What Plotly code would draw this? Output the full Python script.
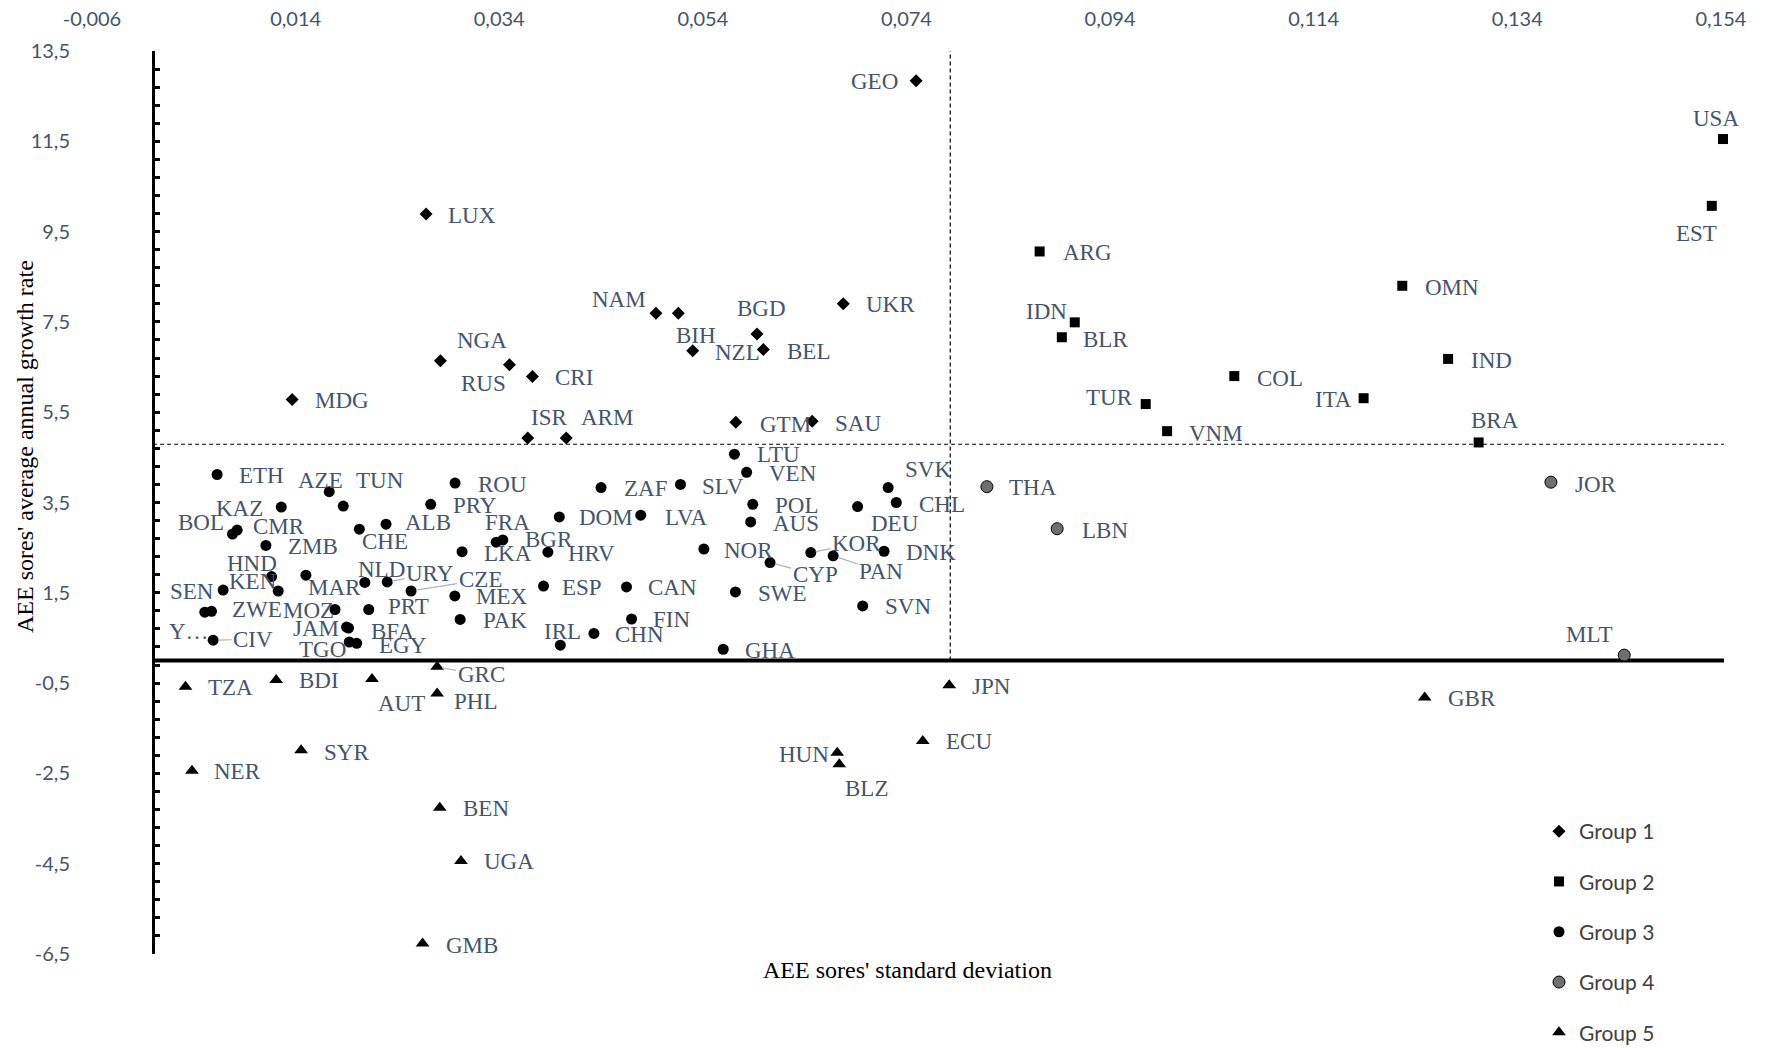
import plotly.graph_objects as go

# ---------------- data ----------------
g1_names = ["GEO", "LUX", "NAM", "BIH", "BGD", "NZL", "BEL", "UKR", "NGA", "RUS", "CRI", "MDG", "ISR", "ARM", "GTM", "SAU"]
g1_x = [0.07495, 0.02681, 0.04939, 0.05159, 0.05932, 0.0530, 0.05994, 0.06779, 0.02822, 0.0350, 0.03726, 0.01366, 0.0368, 0.04058, 0.05724, 0.06474]
g1_y = [12.84, 9.89, 7.69, 7.69, 7.23, 6.86, 6.89, 7.90, 6.64, 6.55, 6.29, 5.78, 4.93, 4.93, 5.28, 5.30]

g2_names = ["USA", "EST", "ARG", "OMN", "IDN", "BLR", "IND", "COL", "ITA", "TUR", "VNM", "BRA"]
g2_x = [0.1542, 0.1531, 0.08708, 0.1227, 0.09053, 0.08926, 0.1272, 0.1062, 0.1189, 0.0975, 0.0996, 0.1302]
g2_y = [11.55, 10.07, 9.06, 8.30, 7.49, 7.16, 6.68, 6.30, 5.81, 5.68, 5.08, 4.83]

g3_names = ["ETH", "AZE", "TUN", "KAZ", "BOL", "CMR", "ZMB", "CHE", "ALB", "ROU", "PRY", "FRA", "BGR", "LKA",
            "HRV", "DOM", "ZAF", "SLV", "LVA", "LTU", "VEN", "POL", "AUS", "NOR", "CYP", "KOR", "PAN", "DEU",
            "SVK", "CHL", "DNK", "SVN", "HND", "KEN", "MAR", "SEN", "Y…", "ZWE", "MOZ", "NLD", "URY", "CZE",
            "PRT", "MEX", "PAK", "JAM", "BFA", "TGO", "EGY", "CIV", "IRL", "ESP", "CAN", "SWE", "FIN", "CHN", "GHA"]
g3_x = [0.00629, 0.0173, 0.01868, 0.01259, 0.0078, 0.00826, 0.01108, 0.02026, 0.02288, 0.02966, 0.02727, 0.0337, 0.03435, 0.03035,
        0.03878, 0.0399, 0.0440, 0.0518, 0.0479, 0.0571, 0.0583, 0.0589, 0.0587, 0.0541, 0.0606, 0.0646, 0.0668, 0.0692,
        0.0722, 0.0730, 0.0718, 0.0697, 0.01164, 0.01229, 0.01501, 0.00688, 0.00508, 0.00574, 0.01787, 0.0208, 0.0230, 0.02534,
        0.02118, 0.02964, 0.03016, 0.0190, 0.0192, 0.01927, 0.0200, 0.0059, 0.0400, 0.03835, 0.0465, 0.0572, 0.0470, 0.0433, 0.0560]
g3_y = [4.12, 3.74, 3.42, 3.40, 2.80, 2.89, 2.55, 2.91, 3.02, 3.93, 3.46, 2.62, 2.67, 2.41,
        2.40, 3.18, 3.83, 3.90, 3.22, 4.57, 4.17, 3.46, 3.07, 2.47, 2.17, 2.39, 2.32, 3.41,
        3.83, 3.50, 2.42, 1.21, 1.86, 1.54, 1.89, 1.56, 1.07, 1.09, 1.13, 1.73, 1.74, 1.54,
        1.13, 1.43, 0.91, 0.74, 0.72, 0.41, 0.38, 0.45, 0.34, 1.65, 1.63, 1.52, 0.92, 0.60, 0.25]

g4_names = ["THA", "LBN", "JOR", "MLT"]
g4_x = [0.0819, 0.0888, 0.1373, 0.1445]
g4_y = [3.85, 2.92, 3.95, 0.12]

g5_names = ["TZA", "BDI", "AUT", "GRC", "PHL", "SYR", "NER", "BEN", "UGA", "GMB", "JPN", "ECU", "HUN", "BLZ", "GBR"]
g5_x = [0.00318, 0.01209, 0.02150, 0.02790, 0.02790, 0.01454, 0.00382, 0.02816, 0.03024, 0.02647, 0.0782, 0.0756, 0.0672, 0.0674, 0.1249]
g5_y = [-0.58, -0.43, -0.41, -0.14, -0.73, -1.99, -2.44, -3.26, -4.44, -6.27, -0.55, -1.78, -2.04, -2.30, -0.82]

group_names = ["Group 1", "Group 2", "Group 3", "Group 4", "Group 5"]

x_tick_vals = [-0.006, 0.014, 0.034, 0.054, 0.074, 0.094, 0.114, 0.134, 0.154]
x_tick_text = ["-0,006", "0,014", "0,034", "0,054", "0,074", "0,094", "0,114", "0,134", "0,154"]
y_tick_vals = [13.5, 11.5, 9.5, 7.5, 5.5, 3.5, 1.5, -0.5, -2.5, -4.5, -6.5]
y_tick_text = ["13,5", "11,5", "9,5", "7,5", "5,5", "3,5", "1,5", "-0,5", "-2,5", "-4,5", "-6,5"]

mean_x = 0.0783
mean_y = 4.79

x_title = "AEE sores' standard deviation"
y_title = "AEE sores' average annual growth rate"

# ---------------- label placement (pixel offsets of label centre from point) ----------------
label_offsets = {
    "GEO": (-42, 1), "LUX": (46, 1.5), "NAM": (-37, -14), "BIH": (18, 22), "BGD": (4, -26), "NZL": (45, 2),
    "BEL": (45, 2), "UKR": (47, 1), "NGA": (42, -20), "RUS": (-26, 19), "CRI": (42, 1), "MDG": (50, 1),
    "ISR": (21, -20), "ARM": (41, -20), "GTM": (50, 2), "SAU": (46, 2),
    "USA": (-7, -21), "EST": (-15, 28), "ARG": (48, 1), "OMN": (50, 2), "IDN": (-28, -11), "BLR": (44, 2),
    "IND": (43, 2), "COL": (46, 2), "ITA": (-30, 1), "TUR": (-36, -7), "VNM": (49, 2), "BRA": (16, -22),
    "ETH": (44, 1), "AZE": (-9, -11), "TUN": (37, -26), "KAZ": (-42, 1), "BOL": (-32, -12), "CMR": (42, -4),
    "ZMB": (47, 1), "CHE": (26, 12), "ALB": (42, -2), "ROU": (47, 1), "PRY": (44, 1), "FRA": (11, -20),
    "BGR": (46, 0), "LKA": (46, 2), "HRV": (44, 1), "DOM": (47, 1), "ZAF": (44, 1), "SLV": (43, 2),
    "LVA": (46, 2), "LTU": (44, 0), "VEN": (46, 1), "POL": (44, 1), "AUS": (45, 2), "NOR": (45, 1),
    "CYP": (45, 12), "KOR": (46, -9), "PAN": (48, 16), "DEU": (37, 17), "SVK": (40, -18), "CHL": (46, 2),
    "DNK": (47, 1), "SVN": (45, 1), "HND": (-20, -13), "KEN": (-25, -9), "MAR": (29, 12), "SEN": (-31, 1),
    "Y…": (-16, 19), "ZWE": (45, -2), "MOZ": (-27, 1), "NLD": (17, -13), "URY": (43, -8), "CZE": (69, -11),
    "PRT": (40, -3), "MEX": (47, 1), "PAK": (45, 1), "JAM": (-31, 1), "BFA": (44, 3), "TGO": (-27, 7),
    "EGY": (46, 2), "CIV": (40, -1), "IRL": (2, -14), "ESP": (38, 1), "CAN": (46, 1), "SWE": (47, 2),
    "FIN": (40, 1), "CHN": (46, 1), "GHA": (47, 1),
    "THA": (46, 1), "LBN": (48, 2), "JOR": (45, 2), "MLT": (-35, -21),
    "TZA": (45, 1), "BDI": (43, 1), "AUT": (30, 24), "GRC": (44, 8), "PHL": (38, 8), "SYR": (45, 2),
    "NER": (46, 1), "BEN": (46, 1), "UGA": (48, 1), "GMB": (49, 2), "JPN": (42, 1), "ECU": (46, 1),
    "HUN": (-33, 2), "BLZ": (27, 24), "GBR": (47, 1),
}
leader_labels = {"MOZ", "CIV", "URY", "CZE", "GRC", "CYP", "KOR", "PAN"}

LABEL_FONT = dict(family="Liberation Serif, Times New Roman, serif", size=23, color="#44546A")
TICK_FONT = dict(family="Lato, Open Sans, sans-serif", size=20, color="#44546A")
TITLE_FONT = dict(family="Liberation Serif, Times New Roman, serif", size=24, color="#000000")

fig = go.Figure()

groups = [
    (group_names[0], g1_names, g1_x, g1_y, dict(symbol="diamond", size=10, color="black")),
    (group_names[1], g2_names, g2_x, g2_y, dict(symbol="square", size=10, color="black")),
    (group_names[2], g3_names, g3_x, g3_y, dict(symbol="circle", size=11, color="black")),
    (group_names[3], g4_names, g4_x, g4_y, dict(symbol="circle", size=12, color="#6f6f6f",
                                                line=dict(color="black", width=1))),
    (group_names[4], g5_names, g5_x, g5_y, dict(symbol="triangle-up", size=12, color="black")),
]

for gname, names, xs, ys, mk in groups:
    fig.add_trace(go.Scatter(x=xs, y=ys, mode="markers", name=gname, marker=mk,
                             text=names, cliponaxis=False, legendgroup=gname,
                             hovertemplate="%{text}<br>%{x}<br>%{y}<extra></extra>"))

# dummy trace for the overlaying axis drawn at x = 0
fig.add_trace(go.Scatter(x=[None], y=[None], yaxis="y2", showlegend=False, hoverinfo="skip"))

annotations = []
for gname, names, xs, ys, mk in groups:
    for n, xv, yv in zip(names, xs, ys):
        dx, dy = label_offsets.get(n, (45, 1))
        if n in leader_labels:
            annotations.append(dict(x=xv, y=yv, xref="x", yref="y", text=n, showarrow=True,
                                    ax=dx, ay=dy, arrowhead=0, arrowwidth=1.2, arrowcolor="#A9B4C4",
                                    standoff=5, font=LABEL_FONT))
        else:
            annotations.append(dict(x=xv, y=yv, xref="x", yref="y", text=n, showarrow=False,
                                    xshift=dx, yshift=-dy, xanchor="center", yanchor="middle",
                                    font=LABEL_FONT))

W, H = 1767, 1048
ml, mr, mt, mb = 92, 43, 51, 94
pw, ph = W - ml - mr, H - mt - mb
xr = [-0.006, 0.1543]


def px_to_paper_x(px):
    return (px - ml) / pw


def px_to_paper_y(py):
    return (H - mb - py) / ph


annotations.append(dict(x=px_to_paper_x(907), y=px_to_paper_y(970), xref="paper", yref="paper",
                        text=x_title, showarrow=False, xanchor="center", yanchor="middle", font=TITLE_FONT))
annotations.append(dict(x=px_to_paper_x(25), y=px_to_paper_y(447), xref="paper", yref="paper",
                        text=y_title, showarrow=False, textangle=-90, xanchor="center", yanchor="middle",
                        font=TITLE_FONT))

shapes = [
    dict(type="line", xref="x", yref="y", x0=0, x1=xr[1], y0=0, y1=0,
         line=dict(color="black", width=4), layer="below"),
    dict(type="line", xref="x", yref="y", x0=mean_x, x1=mean_x, y0=0, y1=13.5,
         line=dict(color="black", width=1.2, dash="4px,3px"), layer="below"),
    dict(type="line", xref="x", yref="y", x0=0, x1=xr[1], y0=mean_y, y1=mean_y,
         line=dict(color="black", width=1.2, dash="4px,3px"), layer="below"),
]

zero_pos = (0 - xr[0]) / (xr[1] - xr[0])

fig.update_layout(
    width=W, height=H,
    margin=dict(l=ml, r=mr, t=mt, b=mb, autoexpand=False),
    paper_bgcolor="white", plot_bgcolor="white",
    xaxis=dict(range=xr, side="top", tickmode="array", tickvals=x_tick_vals, ticktext=x_tick_text,
               showgrid=False, zeroline=False, showline=False, ticks="", tickfont=TICK_FONT,
               ticklabelstandoff=20, automargin=False),
    yaxis=dict(range=[-6.5, 13.5], tickmode="array", tickvals=y_tick_vals, ticktext=y_tick_text,
               showgrid=False, zeroline=False, showline=False, ticks="", tickfont=TICK_FONT,
               ticklabelstandoff=21, automargin=False),
    yaxis2=dict(range=[-6.5, 13.5], overlaying="y", anchor="free", position=zero_pos, side="left",
                tickmode="linear", tick0=-6.5, dtick=0.4, ticks="inside", ticklen=5, tickwidth=2.5,
                tickcolor="black", showticklabels=False, showline=True, linewidth=3.3, linecolor="black",
                showgrid=False, zeroline=False, automargin=False),
    legend=dict(x=px_to_paper_x(1539), y=px_to_paper_y(811), xanchor="left", yanchor="top",
                font=dict(family="Lato, Open Sans, sans-serif", size=21, color="#404040"),
                tracegroupgap=20, bgcolor="rgba(0,0,0,0)"),
    showlegend=True,
    annotations=annotations,
    shapes=shapes,
)

fig.write_html("out.html", config={"displayModeBar": False},
               post_script="document.body.style.margin='0';document.body.style.overflow='hidden';")
